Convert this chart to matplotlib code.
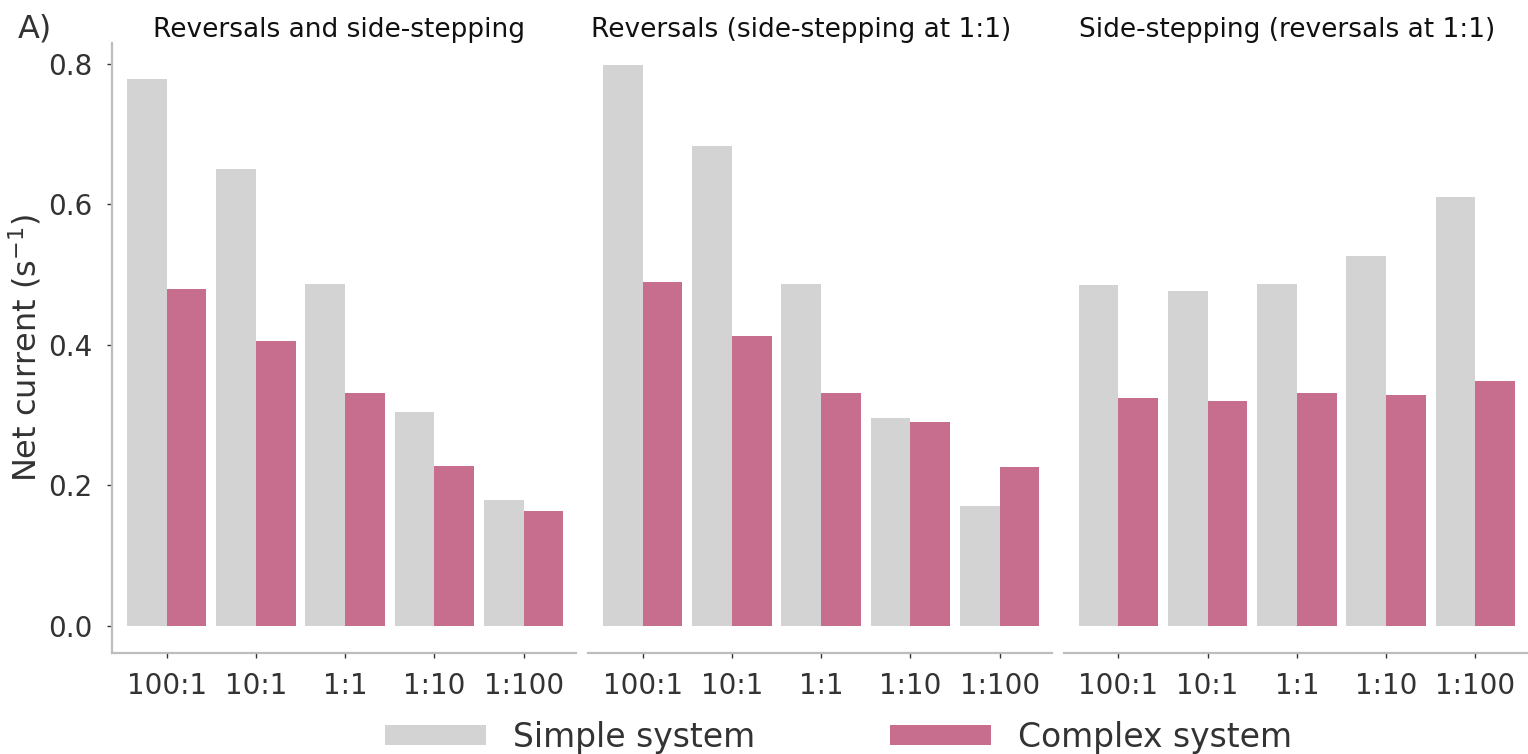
import matplotlib
matplotlib.use("Agg")
import matplotlib.pyplot as plt
import numpy as np
from matplotlib.patches import Patch

plt.rcParams['font.family'] = ['DejaVu Sans']

ratios = ["100:1", "10:1", "1:1", "1:10", "1:100"]
panel_titles = ["Reversals and side-stepping",
                "Reversals (side-stepping at 1:1)",
                "Side-stepping (reversals at 1:1)"]
simple_vals = [
    [0.779, 0.651, 0.487, 0.305, 0.179],
    [0.799, 0.683, 0.487, 0.296, 0.171],
    [0.485, 0.476, 0.487, 0.527, 0.610],
]
complex_vals = [
    [0.480, 0.406, 0.331, 0.228, 0.164],
    [0.489, 0.413, 0.331, 0.290, 0.226],
    [0.324, 0.320, 0.331, 0.329, 0.348],
]
series_names = ["Simple system", "Complex system"]

GREY = "#d3d3d3"
PINK = "#c76d8d"
SPINE = "#bdbdbd"
TXT = "#333333"

W, H = 1528, 754
fig = plt.figure(figsize=(W / 100, H / 100), dpi=100)

lefts = [112.3, 588.3, 1064.0]
title_centers = [339.5, 801.5, 1287.5]
ax_w = 464.0
ax_top, ax_bot = 43.0, 653.0
bw = 0.445

axes = []
for k in range(3):
    ax = fig.add_axes([lefts[k] / W, 1 - ax_bot / H, ax_w / W, (ax_bot - ax_top) / H])
    x = np.arange(len(ratios))
    ax.bar(x - bw / 2, simple_vals[k], width=bw, color=GREY, linewidth=0)
    ax.bar(x + bw / 2, complex_vals[k], width=bw, color=PINK, linewidth=0)
    ax.set_xlim(-0.61, 4.59)
    ax.set_ylim(-0.039, 0.83)
    ax.set_xticks(x)
    ax.set_xticklabels(ratios)
    for s in ["top", "right"]:
        ax.spines[s].set_visible(False)
    ax.spines["bottom"].set_color(SPINE)
    ax.spines["bottom"].set_linewidth(1.6)
    ax.spines["left"].set_color(SPINE)
    ax.spines["left"].set_linewidth(1.6)
    ax.tick_params(axis="x", length=3.5, width=1, color=TXT, pad=10,
                   labelsize=20, labelcolor=TXT)
    ax.tick_params(axis="y", length=3.5, width=1, color=TXT, pad=11,
                   labelsize=20, labelcolor=TXT)
    ax.set_title(panel_titles[k], fontsize=19, color="#111111", pad=1,
                 x=(title_centers[k] - lefts[k]) / ax_w)
    if k == 0:
        ax.set_yticks([0.0, 0.2, 0.4, 0.6, 0.8])
        ax.set_yticklabels(["0.0", "0.2", "0.4", "0.6", "0.8"])
        ax.set_ylabel("Net current (s$^{\\mathregular{-1}}$)", fontsize=23,
                      color=TXT, labelpad=3)
    else:
        ax.spines["left"].set_visible(False)
        ax.set_yticks([])
    axes.append(ax)

fig.text(18 / W, 1 - 38 / H, "A)", fontsize=23, color=TXT, va="baseline", ha="left")

handles = [Patch(facecolor=GREY, edgecolor="none"), Patch(facecolor=PINK, edgecolor="none")]
fig.legend(handles, series_names, loc="center", bbox_to_anchor=(838.5 / W, 1 - 737 / H),
           ncol=2, frameon=False, fontsize=23.8, handlelength=3.05, handleheight=0.55,
           handletextpad=0.8, columnspacing=4.1, labelcolor=TXT, borderpad=0)

fig.savefig("out.png", dpi=100)
